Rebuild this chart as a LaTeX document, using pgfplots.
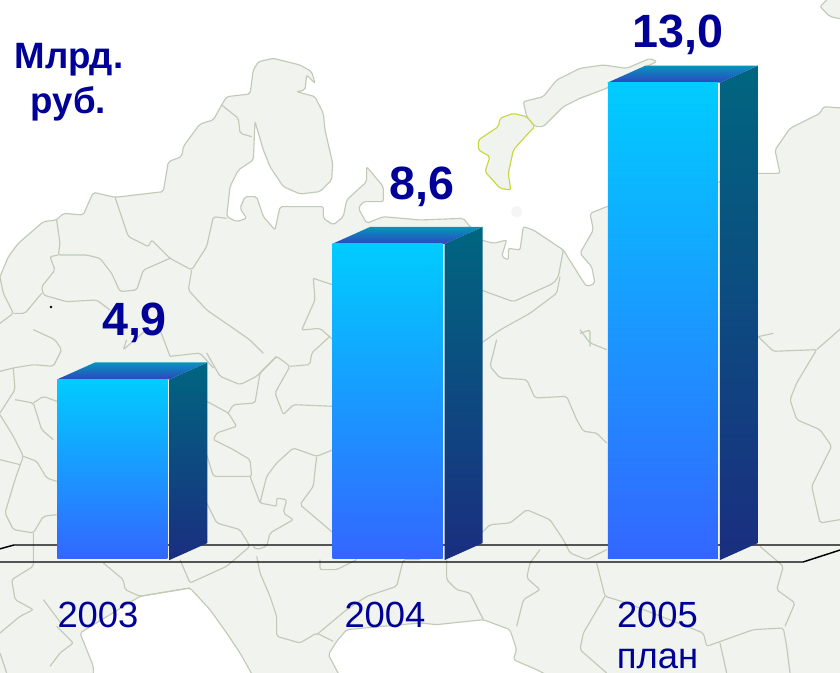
\documentclass[border=0pt]{standalone}
\usepackage{pgfplots}
\pgfplotsset{compat=1.18}
\usepackage{fontspec}
\setmainfont{Liberation Sans}
\definecolor{land}{HTML}{F0F3EE}
\definecolor{bord}{HTML}{C0CAB6}
\definecolor{txt}{HTML}{000099}
\definecolor{frontT}{RGB}{0,204,255}
\definecolor{frontB}{RGB}{51,102,255}
\definecolor{sideT}{RGB}{0,102,128}
\definecolor{sideB}{RGB}{26,46,128}
\definecolor{capT}{RGB}{5,148,190}
\definecolor{capB}{RGB}{45,70,190}
\begin{document}
\begin{tikzpicture}
\useasboundingbox (0,0) rectangle (630pt,504.75pt);
\begin{scope}
\clip (0,0) rectangle (630pt,504.75pt);
\fill[land] (0,0) rectangle (630pt,504.75pt);
\begin{scope}[shift={(0pt,504.75pt)},x=.25pt,y=-.25pt,line width=.85pt,rounded corners=1.5pt]
% white sea, top
\path[fill=white,draw=bord] (-20,860)--(0,830)--(25,770)--(55,730)--(130,665)--(170,660)--(190,640)--(250,645)--(265,610)--(280,577)--(345,592)--(490,575)--(505,485)--(545,470)--(550,440)--(575,405)--(600,372)--(640,360)--(665,315)--(680,290)--(750,282)--(760,210)--(775,185)--(820,175)--(900,195)--(935,215)--(945,250)--(920,225)--(915,270)--(890,275)--(945,290)--(970,340)--(975,390)--(998,490)--(995,540)--(960,575)--(900,582)--(850,560)--(810,500)--(790,450)--(765,365)--(760,480)--(715,510)--(690,560)--(680,650)--(710,665)--(740,655)--(720,625)--(735,590)--(770,590)--(790,650)--(825,690)--(840,620)--(970,620)--(970,655)--(1000,675)--(1030,650)--(1040,600)--(1100,545)--(1100,500)--(1150,560)--(1150,605)--(1090,605)--(1075,625)--(1100,670)--(1150,650)--(1260,660)--(1390,655)--(1443,720)--(1480,730)--(1520,720)--(1505,770)--(1525,780)--(1525,745)--(1560,750)--(1570,680)--(1600,690)--(1690,750)--(1740,830)--(1760,860)--(1785,850)--(1775,800)--(1740,760)--(1780,690)--(1770,640)--(1820,620)--(2274,520)--(2340,520)--(2325,450)--(2370,385)--(2460,340)--(2470,320)--(2540,325)--(2540,-20)--(-20,-20)--cycle;
% white bays, bottom
\path[fill=white,draw=bord] (280,2030)--(280,1999)--(240,1899)--(420,1789)--(570,1764)--(630,1829)--(680,1899)--(720,1959)--(760,2030)--cycle;
\path[fill=white,draw=bord] (1020,2030)--(985,1964)--(1010,1924)--(1040,1889)--(1260,1869)--(1310,1874)--(1450,1859)--(1530,1889)--(1550,1949)--(1540,1979)--(1610,2009)--(1650,2030)--cycle;
% northern islands
\path[fill=land,draw=bord] (1570,305)--(1630,290)--(1670,240)--(1740,205)--(1810,195)--(1880,205)--(1950,175)--(1970,185)--(1910,215)--(1820,265)--(1740,295)--(1690,320)--(1630,380)--(1605,380)--(1580,350)--cycle;
\path[fill=land,draw={rgb,255:red,200;green,215;blue,60}] (1435,420)--(1465,400)--(1495,380)--(1500,355)--(1540,340)--(1580,350)--(1605,380)--(1580,405)--(1540,450)--(1525,520)--(1532,570)--(1500,565)--(1455,515)--(1470,470)--(1435,450)--cycle;
\fill[black!4] (1550,635) circle (17);
\path[fill=land,draw=bord] (2460,20)--(2490,-10)--(2540,-10)--(2540,60)--(2490,50)--cycle;
% inner borders, traced per crop
\begin{scope}[draw=bord]
\draw (665,315)--(715,355)--(720,400)--(755,410);
\draw (345,592)--(385,710)--(445,740)--(455,720)--(510,775)--(575,810)--(620,740)--(640,650)--(680,655);
\draw (170,660)--(180,730)--(175,765)--(260,765)--(300,775)--(335,820)--(360,875)--(410,870)--(430,810)--(510,775);
\draw (175,765)--(150,770)--(165,810)--(125,860)--(130,885)--(200,905)--(290,900)--(330,930);
\draw (0,830)--(10,880)--(40,940)--(0,970);
\draw (125,880)--(75,940)--(40,940);
\draw (575,810)--(565,870)--(620,930)--(700,985)--(750,1020)--(790,1060);
\draw (940,835)--(1000,855);
\draw (940,835)--(945,900)--(905,990)--(960,985)--(1000,1020);
\begin{scope}[shift={(0,999)}]
\draw (0,115)--(40,105)--(100,95)--(160,100)--(185,50)--(165,20)--(100,-10);
\draw (40,105)--(45,170)--(0,240);
\draw (45,200)--(100,210)--(125,290)--(160,320);
\draw (0,245)--(40,310)--(70,370)--(45,440)--(15,540)--(40,590)--(100,600)--(130,550)--(170,545);
\draw (70,370)--(110,385)--(140,435)--(170,445);
\draw (0,380)--(60,395);
\draw (100,210)--(130,190)--(170,205);
\draw (620,205)--(685,240)--(710,280)--(650,300)--(640,320)--(700,350)--(750,380)--(755,430)--(640,430)--(620,365);
\draw (685,240)--(700,215)--(765,210)--(780,120)--(830,70)--(870,100)--(825,180)--(850,245)--(880,215)--(1000,220);
\draw (870,100)--(930,95)--(935,60)--(990,10);
\draw (620,60)--(660,130)--(720,155)--(770,130)--(830,70);
\draw (510,70)--(600,60)--(640,105);
\draw (380,20)--(370,50)--(440,-10);
\draw (480,-10)--(510,70);
\draw (750,430)--(780,510)--(830,520)--(830,495)--(860,500)--(850,540)--(880,560)--(810,600)--(800,640)--(770,650)--(760,640);
\draw (780,510)--(800,430)--(830,390)--(880,345)--(950,370)--(1000,350);
\draw (950,370)--(940,460)--(900,515)--(1000,600);
\draw (620,510)--(650,570)--(720,590)--(750,640)--(680,700)--(570,750)--(540,680);
\draw (770,670)--(780,720)--(810,790)--(830,850)--(830,910)--(900,930)--(950,900)--(1000,925);
\draw (570,765)--(420,790)--(375,770)--(370,740)--(310,690);
\draw (100,600)--(100,700)--(35,740)--(45,800)--(100,830)--(60,850)--(0,900);
\draw (170,880)--(220,930)--(180,960)--(150,1000);
\draw (130,800)--(190,880);
\draw (960,680)--(960,710)--(1010,710)--(1070,680);
\draw (1260,680)--(1210,680)--(1190,760)--(1100,790)--(1040,830)--(950,905);
\draw (0,960)--(20,1020);
\end{scope}
\begin{scope}[shift={(1260,999)}]
\draw (230,20)--(210,100)--(240,135)--(320,140)--(345,195)--(440,190)--(470,260)--(490,295)--(530,300)--(560,330);
\draw (185,600)--(210,575)--(270,570)--(320,530)--(390,560)--(430,620)--(450,660)--(500,680)--(560,650);
\draw (360,650)--(330,690)--(320,735)--(360,770)--(310,800)--(290,880);
\draw (80,680)--(80,740)--(110,770)--(150,780)--(190,860);
\draw (530,690)--(555,790)--(620,810)--(850,900)--(860,940)--(1000,890)--(1090,885)--(1100,940)--(1110,1020);
\draw (555,790)--(490,900)--(480,950)--(560,1020);
\draw (900,930)--(920,1020);
\draw (1020,640)--(1090,700)--(1070,770)--(1125,810)--(1095,880);
\draw (1014,10)--(1060,55)--(1190,50)--(1130,150)--(1110,200)--(1130,260)--(1200,290)--(1235,340)--(1175,460)--(1200,570)--(1260,560);
\draw (1270,-20)--(1190,50);
\draw (480,-10)--(510,30)--(560,50);
\end{scope}
\begin{scope}[shift={(1260,0)}]
\draw (183,870)--(280,905)--(400,850)--(415,830)--(430,750);
\draw (183,1030)--(240,990)--(330,940)--(410,880)--(420,830);
\draw (480,1000)--(510,990)--(510,1040);
\draw (1014,1010)--(1060,1000);
\end{scope}
\end{scope}
\fill[black] (153,921) circle (4);
\end{scope}
\end{scope}
\begin{axis}[
  at={(0,0)},anchor=south west,
  scale only axis,width=630pt,height=504.75pt,
  xmin=-0.4087,xmax=2.6431,ymin=-3.1114,ymax=15.2566,
  axis line style={draw=none},tick style={draw=none},
  ytick=\empty,
  xtick={-0.0527,0.990,1.980},
  xticklabels={2003,2004,{2005\\план}},
  xticklabel style={text=txt,font=\fontsize{27.3}{31}\selectfont,align=center,anchor=north,yshift=57pt},
]
% floor
\addplot[black,line width=1.1pt,mark=none] coordinates {(-0.45,0.191) (-0.358,0.382) (2.70,0.382)};
\addplot[black,line width=1.1pt,mark=none] coordinates {(-0.45,-0.082) (2.509,-0.082) (2.70,0.382)};
% side faces
\addplot[draw=none,mark=none,shade,top color=sideT,bottom color=sideB] coordinates {(0.2066,-0.03) (0.3446,0.434) (0.3446,5.364) (0.2066,4.9)} --cycle;
\addplot[draw=none,mark=none,shade,top color=sideT,bottom color=sideB] coordinates {(1.2066,-0.03) (1.3446,0.434) (1.3446,9.064) (1.2066,8.6)} --cycle;
\addplot[draw=none,mark=none,shade,top color=sideT,bottom color=sideB] coordinates {(2.2066,-0.03) (2.3446,0.434) (2.3446,13.464) (2.2066,13.0)} --cycle;
% top faces
\addplot[draw=none,mark=none,shade,top color=capT,bottom color=capB] coordinates {(-0.2016,4.9) (0.2066,4.9) (0.3446,5.364) (-0.0636,5.364)} --cycle;
\addplot[draw=none,mark=none,shade,top color=capT,bottom color=capB] coordinates {(0.7984,8.6) (1.2066,8.6) (1.3446,9.064) (0.9364,9.064)} --cycle;
\addplot[draw=none,mark=none,shade,top color=capT,bottom color=capB] coordinates {(1.7984,13.0) (2.2066,13.0) (2.3446,13.464) (1.9364,13.464)} --cycle;
% front faces: the data, one plot per bar so that each has its own gradient
\addplot[ybar,bar width=82.5pt,bar shift=0pt,draw=none,mark=none,top color=frontT,bottom color=frontB] coordinates {(0,4.9)};
\addplot[ybar,bar width=82.5pt,bar shift=0pt,draw=none,mark=none,top color=frontT,bottom color=frontB] coordinates {(1,8.6)};
\addplot[ybar,bar width=82.5pt,bar shift=0pt,draw=none,mark=none,top color=frontT,bottom color=frontB] coordinates {(2,13.0)};
\end{axis}
\begin{scope}[shift={(0pt,504.75pt)},x=.75pt,y=-.75pt,text=txt,inner sep=0pt]
\node[anchor=base,font=\fontsize{35}{35}\selectfont\bfseries] at (134.5,336) {4,9};
\node[anchor=base,font=\fontsize{35}{35}\selectfont\bfseries] at (422,200) {8,6};
\node[anchor=base,font=\fontsize{35}{35}\selectfont\bfseries] at (678,48) {13,0};
\node[anchor=base,font=\fontsize{27.5}{27.5}\selectfont\bfseries] at (69,69) {Млрд.};
\node[anchor=base,font=\fontsize{27.5}{27.5}\selectfont\bfseries] at (68.5,114) {руб.};
\end{scope}
\end{tikzpicture}
\end{document}
